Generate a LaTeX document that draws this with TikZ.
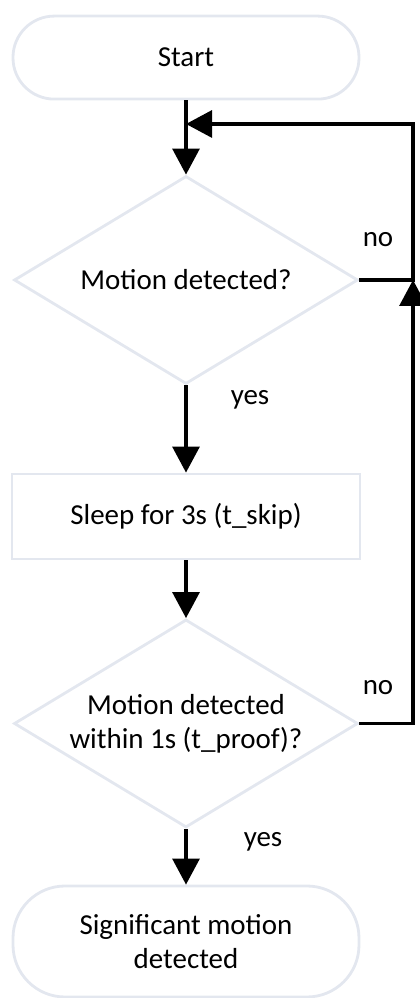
\documentclass[tikz,border=0pt]{standalone}
\usepackage{fontspec}
\setmainfont{Carlito}
\usetikzlibrary{shapes.geometric,arrows.meta}

\definecolor{outline}{RGB}{227,231,239}

\begin{document}
\begin{tikzpicture}[
        every node/.style={font=\fontsize{20.6}{24.1}\selectfont, align=center},
        terminal/.style={draw=outline, line width=2pt, rectangle, rounded corners=1.03cm,
            minimum width=8.65cm, minimum height=2.075cm, inner sep=0pt},
        process/.style={draw=outline, line width=2pt, rectangle,
            minimum width=8.7cm, minimum height=2.125cm, inner sep=0pt},
        decision/.style={draw=outline, line width=2pt, diamond, inner sep=0pt,
            minimum width=8.6cm, minimum height=5.2cm},
        flow/.style={line width=2.2pt, -{Triangle[width=0.675cm, length=0.65cm]}},
        answer/.style={inner sep=0pt}]
        \useasboundingbox (0,0) rectangle (10.475,24.95);

        % boxes
        \node[terminal] (start) at (4.65,23.51) {Start};
        \node[decision, label={[name=asktext]center:Motion detected?}] (ask) at (4.65,17.95) {};
        \node[process] (sleep) at (4.65,12.0375) {Sleep for 3s (t\_skip)};
        \node[decision, label={[name=prooftext, align=center]center:Motion detected\\within 1s (t\_proof)?}] (proof) at (4.65,6.8625) {};
        \node[terminal, rounded corners=1.3cm, minimum height=2.775cm] (done) at (4.65,1.4125) {Significant motion\\detected};

        % loop back line
        \coordinate (back) at (10.325,21.85);

        % arrows
        \draw[flow] (start.south) -- (ask.north);
        \draw[flow] (ask.south) -- (sleep.north);
        \draw[flow] (sleep.south) -- (proof.north);
        \draw[flow] (proof.south) -- (done.north);
        \draw[flow] (ask.east) -| (back) -- (back -| start.south);
        \draw[flow] (proof.east) -| (ask.east -| back);

        % labels
        \node[answer] (no1) at (9.45,18.95) {no};
        \node[answer] (no2) at (9.45,7.75) {no};
        \node[answer] (yes1) at (6.25,14.95) {yes};
        \node[answer] (yes2) at (6.575,3.9) {yes};
\end{tikzpicture}
\end{document}
